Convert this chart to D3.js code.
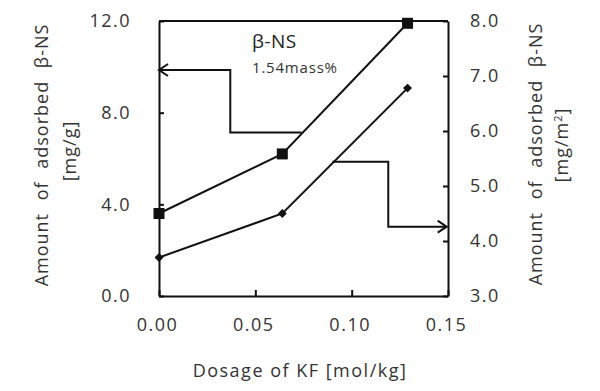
<!DOCTYPE html>
<meta charset="utf-8">
<style>
body { margin: 0; background: #fff; }
text { font-family: "Open Sans", sans-serif; fill: #222; }
.axis path, .axis line { stroke: #111; stroke-width: 2; }
.axis text { font-size: 18px; letter-spacing: 1.5px; fill: #333; }
</style>
<svg width="600" height="391"></svg>
<script src="https://d3js.org/d3.v7.min.js"></script>
<script>

// KF dosage [mol/kg]
var dosage = [0, 0.064, 0.129];
// adsorbed b-NS, left axis [mg/g] (squares)
var amountMgG = [3.6, 6.2, 11.9];
// adsorbed b-NS, right axis [mg/m2] (diamonds)
var amountMgM2 = [3.7, 4.5, 6.78];

var xTicks = [0, 0.05, 0.10, 0.15];
var yLeftTicks = [0, 4, 8, 12];
var yRightTicks = [3, 4, 5, 6, 7, 8];

// guide arrows (data units) pointing each series to its axis
var leftArrow = [[0.074, 7.14], [0.037, 7.14], [0.037, 9.86], [0, 9.86]];
var rightArrow = [[0.090, 5.44], [0.119, 5.44], [0.119, 4.26], [0.1493, 4.26]];

var svg = d3.select("svg");
var plotLeft = 159, plotRight = 448, plotTop = 21, plotBottom = 296;

var x = d3.scaleLinear().domain([0, 0.15]).range([plotLeft, plotRight]);
var yL = d3.scaleLinear().domain([0, 12]).range([plotBottom, plotTop]);
var yR = d3.scaleLinear().domain([3, 8]).range([plotBottom, plotTop]);

// frame top line
svg.append("line")
    .attr("x1", plotLeft).attr("x2", plotRight)
    .attr("y1", plotTop).attr("y2", plotTop)
    .style("stroke", "#111").style("stroke-width", 2);

svg.append("g")
    .attr("class", "axis")
    .attr("transform", "translate(0," + plotBottom + ")")
    .call(d3.axisBottom(x).tickValues(xTicks).tickFormat(d3.format(".2f"))
        .tickSizeInner(-6).tickSizeOuter(0).tickPadding(22))
  .selectAll("text").attr("dx", "-2");

svg.append("g")
    .attr("class", "axis")
    .attr("transform", "translate(" + plotLeft + ",0)")
    .call(d3.axisLeft(yL).tickValues(yLeftTicks).tickFormat(d3.format(".1f"))
        .tickSizeInner(-5).tickSizeOuter(0).tickPadding(28));

svg.append("g")
    .attr("class", "axis")
    .attr("transform", "translate(" + plotRight + ",0)")
    .call(d3.axisRight(yR).tickValues(yRightTicks).tickFormat(d3.format(".1f"))
        .tickSizeInner(-5).tickSizeOuter(0).tickPadding(22));

var line = d3.line();

// series lines
svg.append("path")
    .datum(dosage.map(function(d, i) { return [x(d), yL(amountMgG[i])]; }))
    .attr("d", line)
    .style("fill", "none").style("stroke", "#111").style("stroke-width", 2);

svg.append("path")
    .datum(dosage.map(function(d, i) { return [x(d), yR(amountMgM2[i])]; }))
    .attr("d", line)
    .style("fill", "none").style("stroke", "#111").style("stroke-width", 2);

// squares
svg.selectAll(".sq").data(dosage).enter().append("rect")
    .attr("class", "sq")
    .attr("x", function(d) { return x(d) - 5.5; })
    .attr("y", function(d, i) { return yL(amountMgG[i]) - 5.5; })
    .attr("width", 11).attr("height", 11)
    .style("fill", "#111");

// diamonds
svg.selectAll(".dm").data(dosage).enter().append("path")
    .attr("class", "dm")
    .attr("d", d3.symbol().type(d3.symbolSquare).size(40))
    .attr("transform", function(d, i) {
      return "translate(" + x(d) + "," + yR(amountMgM2[i]) + ") rotate(45)";
    })
    .style("fill", "#111");

// arrows
function drawArrow(pts, yScale) {
  var p = pts.map(function(d) { return [x(d[0]), yScale(d[1])]; });
  svg.append("path").datum(p).attr("d", line)
      .style("fill", "none").style("stroke", "#111").style("stroke-width", 2);
  var n = p.length, tip = p[n - 1], prev = p[n - 2];
  var dir = tip[0] > prev[0] ? 1 : -1;
  svg.append("path")
      .datum([[tip[0] - dir * 9, tip[1] - 6], tip, [tip[0] - dir * 9, tip[1] + 6]])
      .attr("d", line)
      .style("fill", "none").style("stroke", "#111").style("stroke-width", 2);
}
drawArrow(leftArrow, yL);
drawArrow(rightArrow, yR);

// legend text
svg.append("text").attr("x", 252).attr("y", 48)
    .style("font-size", "19px").style("letter-spacing", "0.5px").text("β-NS");
svg.append("text").attr("x", 252).attr("y", 73)
    .style("font-size", "15px").style("letter-spacing", "0.8px").style("fill", "#333")
    .text("1.54mass%");

// axis titles
var titleStyle = function(t) {
  t.style("font-size", "18px").style("letter-spacing", "1px").style("fill", "#333")
   .attr("text-anchor", "middle");
};

svg.append("text").call(titleStyle)
    .attr("transform", "translate(48,155) rotate(-90)")
    .style("word-spacing", "7px")
    .text("Amount of adsorbed β-NS");
svg.append("text").call(titleStyle)
    .attr("transform", "translate(76,151) rotate(-90)")
    .text("[mg/g]");

svg.append("text").call(titleStyle)
    .attr("transform", "translate(542,154) rotate(-90)")
    .style("word-spacing", "7px")
    .text("Amount of adsorbed β-NS");
var r2 = svg.append("text").call(titleStyle)
    .attr("transform", "translate(568,145) rotate(-90)");
r2.append("tspan").text("[mg/m");
r2.append("tspan").attr("dy", -6).style("font-size", "11px").text("2");
r2.append("tspan").attr("dy", 6).text("]");

svg.append("text").call(titleStyle)
    .attr("x", 300).attr("y", 377)
    .style("letter-spacing", "1.5px")
    .text("Dosage of KF [mol/kg]");

</script>
